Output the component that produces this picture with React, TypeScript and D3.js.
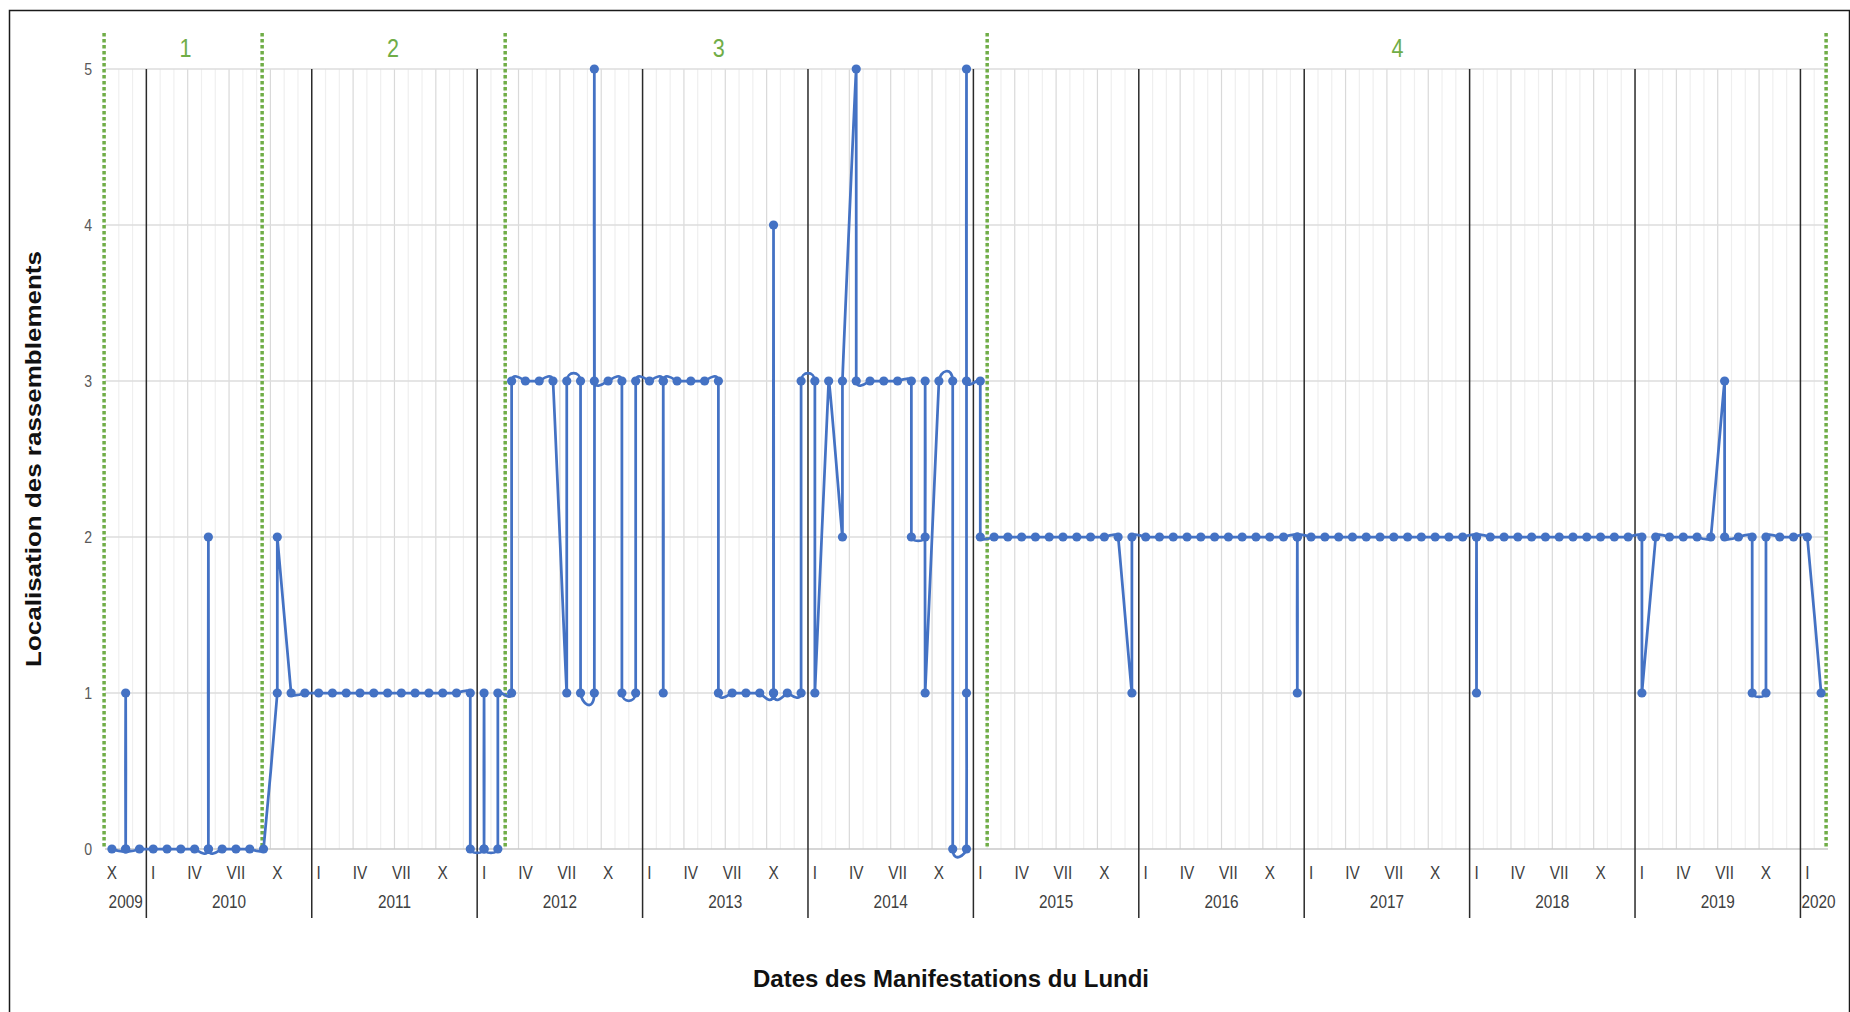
import React from "react";
import * as d3 from "d3";

const W = 1850;
const H = 1012;

// ---------- axis categories ----------
const firstYear = 2009;
const firstMonth = 10; // October 2009
const monthCount = 125; // Oct 2009 .. Feb 2020
const years = [2009, 2010, 2011, 2012, 2013, 2014, 2015, 2016, 2017, 2018, 2019, 2020];
const quarterMonths = [1, 4, 7, 10];
const quarterLabels = ["I", "IV", "VII", "X"];
const yTicks = [0, 1, 2, 3, 4, 5];

// ---------- phases ----------
const phaseNames = ["1", "2", "3", "4"];
const phaseBounds = ["2009-09-29", "2010-09-13", "2012-03-02", "2015-02-01", "2020-02-26"];
const phaseLabelDates = ["2010-03-27", "2011-06-28", "2013-06-17", "2017-07-25"];

// ---------- data: per month, the successive values recorded ----------
const values2009 = [[0], [0, 1, 0], [0]]; // Oct–Dec
const values2010 = [[0], [0], [0], [0], [0, 2, 0], [0], [0], [0], [0], [1, 2], [1], [1]];
const values2011 = [[1], [1], [1], [1], [1], [1], [1], [1], [1], [1], [1], [1, 0]];
const values2012 = [[0, 1, 0], [0, 1], [1, 3], [3], [3], [3], [1, 3], [3, 1], [1, 5, 3], [3], [3, 1], [1, 3]];
const values2013 = [[3], [3, 1, 3], [3], [3], [3], [3, 1], [1], [1], [1], [1, 4, 1], [1], [1, 3]];
const values2014 = [[3, 1], [3], [2, 3], [5, 3], [3], [3], [3], [3, 2], [2, 3, 1], [3], [3, 0], [0, 1, 5, 3]];
const values2015 = [[3, 2], [2], [2], [2], [2], [2], [2], [2], [2], [2], [2], [1, 2]];
const values2016 = [[2], [2], [2], [2], [2], [2], [2], [2], [2], [2], [2], [2, 1, 2]];
const values2017 = [[2], [2], [2], [2], [2], [2], [2], [2], [2], [2], [2], [2]];
const values2018 = [[2, 1, 2], [2], [2], [2], [2], [2], [2], [2], [2], [2], [2], [2]];
const values2019 = [[2, 1], [2], [2], [2], [2], [2], [3, 2], [2], [2, 1], [1, 2], [2], [2]];
const values2020 = [[2], [1]]; // Jan–Feb
const valuesByYear = [values2009, values2010, values2011, values2012, values2013, values2014,
  values2015, values2016, values2017, values2018, values2019, values2020];

const yTitle = "Localisation des rassemblements";
const xTitle = "Dates des Manifestations du Lundi";

// ---------- helpers ----------
const monthIdx = (yr: number, m: number) => (yr - firstYear) * 12 + (m - firstMonth);
function dateIdx(s: string) {
  const [yr, m, d] = s.split("-").map(Number);
  const days = new Date(yr, m, 0).getDate();
  return monthIdx(yr, m) + (d - 1) / days;
}

const BLUE = "#4472C4";
const GREEN = "#70AD47";
const FONT = "'Liberation Sans', Arial, sans-serif";
const SX = 0.83;

function Txt(p: { x: number; y: number; size: number; anchor?: string; weight?: string; fill?: string; sx?: number; rotate?: number; children: any }) {
  const sx = p.sx ?? SX;
  const rot = p.rotate ? ` rotate(${p.rotate})` : "";
  return (
    <g transform={`translate(${p.x},${p.y}) scale(${sx},1)${rot}`}>
      <text textAnchor={p.anchor ?? "middle"} dominantBaseline="central" fontFamily={FONT}
        fontSize={p.size} fontWeight={p.weight ?? "normal"} fill={p.fill ?? "#404040"}>{p.children}</text>
    </g>
  );
}

export default function App() {
  const x = d3.scaleLinear().domain([0, monthCount]).range([105, 1828]);
  const y = d3.scaleLinear().domain([0, 5]).range([849, 69]);
  const [x0, x1] = x.range();
  const yTop = y(5);
  const yBot = y(0);

  const pts: [number, number][] = [];
  valuesByYear.forEach((yearVals, yi) => {
    const yr = years[yi];
    const startM = yr === firstYear ? firstMonth : 1;
    yearVals.forEach((seq, k) => {
      const mi = monthIdx(yr, startM + k);
      seq.forEach((v) => pts.push([x(mi + 0.5), y(v)]));
    });
  });
  const line = d3.line<[number, number]>().x((d) => d[0]).y((d) => d[1]).curve(d3.curveCardinal.tension(0.8));

  const monthLines = d3.range(1, monthCount).filter((i) => (i + firstMonth - 1) % 12 !== 0);
  const yearStarts = years.filter((yr) => yr > firstYear).map((yr) => monthIdx(yr, 1));

  return (
    <svg width={W} height={H} style={{ position: "absolute", left: 0, top: 0, background: "#fff" }}>
      <rect x={0} y={0} width={W} height={H} fill="#fff" />
      <rect x={9.5} y={10.5} width={1840} height={1030} fill="none" stroke="#1a1a1a" strokeWidth={1.5} />

      {/* monthly vertical grid */}
      {monthLines.map((i) => {
        const quarter = (i + firstMonth - 1) % 3 === 0;
        return (
          <line key={"m" + i} x1={x(i)} x2={x(i)} y1={yTop} y2={yBot}
            stroke={quarter ? "#d9d9d9" : "#efefef"} strokeWidth={1.2} />
        );
      })}
      {/* horizontal grid */}
      {yTicks.map((t) => (
        <line key={"h" + t} x1={x0} x2={x1} y1={y(t)} y2={y(t)} stroke={t === 0 ? "#c8c8c8" : "#dcdcdc"} strokeWidth={1.5} />
      ))}
      {/* year separators */}
      {yearStarts.map((i) => (
        <line key={"y" + i} x1={x(i)} x2={x(i)} y1={yTop} y2={918} stroke="#2a2a2a" strokeWidth={1.5} />
      ))}
      {/* phase boundaries */}
      {phaseBounds.map((d) => (
        <line key={"p" + d} x1={x(dateIdx(d))} x2={x(dateIdx(d))} y1={33} y2={848}
          stroke={GREEN} strokeWidth={3.5} strokeDasharray="3.5 2.5" />
      ))}
      {phaseNames.map((n, i) => (
        <Txt key={"pn" + n} x={x(dateIdx(phaseLabelDates[i]))} y={48} size={26} fill={GREEN}>{n}</Txt>
      ))}

      {/* data */}
      <path d={line(pts) ?? ""} fill="none" stroke={BLUE} strokeWidth={2.75} strokeLinejoin="round" />
      {pts.map((p, i) => (
        <circle key={"c" + i} cx={p[0]} cy={p[1]} r={4.6} fill={BLUE} />
      ))}

      {/* y tick labels */}
      {yTicks.map((t) => (
        <Txt key={"yt" + t} x={92} y={y(t)} size={17} anchor="end" fill="#595959">{t}</Txt>
      ))}
      {/* month labels */}
      {d3.range(0, monthCount).filter((i) => quarterMonths.includes(((i + firstMonth - 1) % 12) + 1)).map((i) => {
        const m = ((i + firstMonth - 1) % 12) + 1;
        return (
          <Txt key={"ml" + i} x={x(i + 0.5)} y={873} size={18.5}>{quarterLabels[quarterMonths.indexOf(m)]}</Txt>
        );
      })}
      {/* year labels */}
      {years.map((yr) => {
        const a = Math.max(0, monthIdx(yr, 1));
        const b = Math.min(monthCount, monthIdx(yr + 1, 1));
        const wpx = x(b) - x(a);
        if (wpx < 36) {
          return <Txt key={"yl" + yr} x={x(a) + 1} y={902} size={18.5} anchor="start">{yr}</Txt>;
        }
        return <Txt key={"yl" + yr} x={(x(a) + x(b)) / 2} y={902} size={18.5}>{yr}</Txt>;
      })}

      {/* titles */}
      <Txt x={33} y={(yTop + yBot) / 2} size={26} weight="bold" fill="#111" sx={0.85} rotate={-90}>{yTitle}</Txt>
      <Txt x={951} y={978} size={24} weight="bold" fill="#111" sx={1}>{xTitle}</Txt>
    </svg>
  );
}
